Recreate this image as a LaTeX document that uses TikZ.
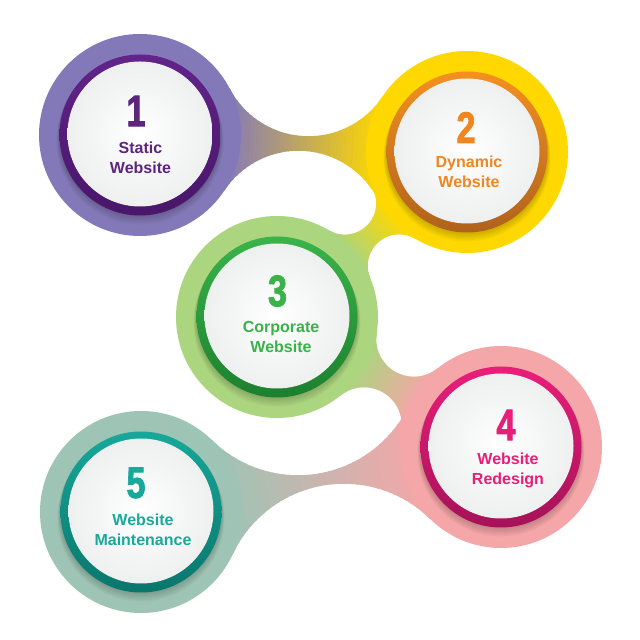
\documentclass[tikz,border=0pt]{standalone}
\usepackage{fontspec}
\setmainfont{Liberation Sans}
\newfontfamily\numfont[BoldFeatures={FakeBold=2}]{Liberation Sans}
\usepackage{graphicx}
\definecolor{pOut}{RGB}{132,121,184}
\definecolor{pRing}{RGB}{98,36,138}
\definecolor{pDark}{RGB}{72,22,105}
\definecolor{pTxt}{RGB}{92,38,124}
\definecolor{yOut}{RGB}{254,216,0}
\definecolor{yRing}{RGB}{244,144,32}
\definecolor{yDark}{RGB}{176,98,28}
\definecolor{yTxt}{RGB}{240,134,34}
\definecolor{gOut}{RGB}{171,213,126}
\definecolor{gRing}{RGB}{58,180,74}
\definecolor{gDark}{RGB}{28,128,46}
\definecolor{gTxt}{RGB}{58,178,74}
\definecolor{kOut}{RGB}{245,166,168}
\definecolor{kRing}{RGB}{234,30,122}
\definecolor{kDark}{RGB}{165,18,88}
\definecolor{kTxt}{RGB}{232,30,120}
\definecolor{tOut}{RGB}{158,196,181}
\definecolor{tRing}{RGB}{22,168,154}
\definecolor{tDark}{RGB}{10,118,108}
\definecolor{tTxt}{RGB}{26,168,154}
\definecolor{discgray}{RGB}{238,239,239}
\def\Rc{101}
% strip of the gradient between axis parameters #1 and #2
\newcommand\bstrip[3]{%
  \edef\sax{\fpeval{round(\bAx+(#1)*\bdx+125*\buy,3)}}%
  \edef\say{\fpeval{round(\bAy+(#1)*\bdy-125*\bux,3)}}%
  \edef\sbx{\fpeval{round(\bAx+(#2)*\bdx+125*\buy,3)}}%
  \edef\sby{\fpeval{round(\bAy+(#2)*\bdy-125*\bux,3)}}%
  \edef\scx{\fpeval{round(\bAx+(#2)*\bdx-125*\buy,3)}}%
  \edef\scy{\fpeval{round(\bAy+(#2)*\bdy+125*\bux,3)}}%
  \edef\sdx{\fpeval{round(\bAx+(#1)*\bdx-125*\buy,3)}}%
  \edef\sdy{\fpeval{round(\bAy+(#1)*\bdy+125*\bux,3)}}%
  \fill[#3] (\sax,\say) -- (\sbx,\sby) -- (\scx,\scy) -- (\sdx,\sdy) -- cycle;}
% bridge with concave fillets between two circles
\newcommand\drawbridge[7]{%
  \begingroup
  \edef\bAx{#1}\edef\bAy{#2}\edef\bBx{#3}\edef\bBy{#4}\edef\bR{#5}%
  \edef\bdx{\fpeval{\bBx-\bAx}}\edef\bdy{\fpeval{\bBy-\bAy}}%
  \edef\bd{\fpeval{round(sqrt(\bdx*\bdx+\bdy*\bdy),4)}}%
  \edef\bux{\fpeval{round(\bdx/\bd,6)}}\edef\buy{\fpeval{round(\bdy/\bd,6)}}%
  \edef\bh{\fpeval{\bd/2}}%
  \edef\bs{\fpeval{round(sqrt((\Rc+\bR)*(\Rc+\bR)-\bh*\bh),4)}}%
  \edef\bmx{\fpeval{(\bAx+\bBx)/2}}\edef\bmy{\fpeval{(\bAy+\bBy)/2}}%
  \edef\fPx{\fpeval{round(\bmx-\bs*\buy,4)}}\edef\fPy{\fpeval{round(\bmy+\bs*\bux,4)}}%
  \edef\fQx{\fpeval{round(\bmx+\bs*\buy,4)}}\edef\fQy{\fpeval{round(\bmy-\bs*\bux,4)}}%
  \edef\bk{\fpeval{round(\Rc/(\Rc+\bR),6)}}%
  \edef\tAPx{\fpeval{round(\bAx+\bk*(\fPx-\bAx),4)}}\edef\tAPy{\fpeval{round(\bAy+\bk*(\fPy-\bAy),4)}}%
  \edef\tBQx{\fpeval{round(\bBx+\bk*(\fQx-\bBx),4)}}\edef\tBQy{\fpeval{round(\bBy+\bk*(\fQy-\bBy),4)}}%
  \edef\aPA{\fpeval{round(atand(\bAy-\fPy,\bAx-\fPx),4)}}%
  \edef\aPB{\fpeval{round(atand(\bBy-\fPy,\bBx-\fPx),4)}}%
  \edef\aQB{\fpeval{round(atand(\bBy-\fQy,\bBx-\fQx),4)}}%
  \edef\aQA{\fpeval{round(atand(\bAy-\fQy,\bAx-\fQx),4)}}%
  \edef\dP{\fpeval{\aPB-\aPA}}\edef\dQ{\fpeval{\aQA-\aQB}}%
  \edef\ePB{\fpeval{round(\aPA+((\dP>180)?(\dP-360):((\dP<-180)?(\dP+360):(\dP))),4)}}%
  \edef\eQA{\fpeval{round(\aQB+((\dQ>180)?(\dQ-360):((\dQ<-180)?(\dQ+360):(\dQ))),4)}}%
  \edef\tz{\fpeval{round(\bk*\bh/\bd,5)}}\edef\tw{\fpeval{1-\tz}}%
  \begin{scope}
    \clip (\bAx,\bAy) -- (\tAPx,\tAPy) arc[start angle=\aPA,end angle=\ePB,radius=\bR]
      -- (\bBx,\bBy) -- (\tBQx,\tBQy) arc[start angle=\aQB,end angle=\eQA,radius=\bR] -- cycle;
    \bstrip{-0.5}{\tz+0.01}{#6}%
    \bstrip{\tw-0.01}{1.5}{#7}%
    \foreach \i in {0,...,39}{%
      \edef\ta{\fpeval{\tz+(\tw-\tz)*\i/40}}%
      \edef\tb{\fpeval{\tz+(\tw-\tz)*(\i+1.3)/40}}%
      \edef\pc{\fpeval{round(100*(\i+0.5)/40)}}%
      \bstrip{\ta}{\tb}{#7!\pc!#6}}%
  \end{scope}
  \endgroup}
\tikzset{
  lbl/.style={font=\bfseries\fontsize{16}{20}\selectfont, align=center, inner sep=0pt},
  num/.style={font=\numfont\bfseries\fontsize{44}{44}\selectfont, inner sep=0pt},
}
\newcommand\bubble[4]{% #1 coordinate, #2 outer, #3 ring, #4 ring dark
  \fill[#2] (#1) circle (101);
  \foreach \k in {1,...,6}{\fill[black,opacity=0.03] ([yshift=-\k pt]#1) circle (80.5+0.5*\k);}
  \shade[top color=#3, middle color=#3, bottom color=#4] (#1) circle (80.5);
  \shade[inner color=white, outer color=discgray] ([yshift=1pt]#1) circle (72.5);}
\begin{document}
\begin{tikzpicture}[x=1pt,y=1pt]
\useasboundingbox (0,0) rectangle (640,640);
\fill[white] (0,0) rectangle (640,640);
\coordinate (c1) at (140,505);
\coordinate (c2) at (467,488);
\coordinate (c3) at (277,323);
\coordinate (c4) at (501,193);
\coordinate (c5) at (141,128);
% bridges
\drawbridge{140}{505}{467}{488}{89}{pOut}{yOut}
\drawbridge{467}{488}{277}{323}{31.5}{yOut}{gOut}
\drawbridge{277}{323}{501}{193}{37.7}{gOut}{kOut}
\drawbridge{501}{193}{141}{128}{123}{kOut}{tOut}
% circles
\bubble{c1}{pOut}{pRing}{pDark}
\bubble{c2}{yOut}{yRing}{yDark}
\bubble{c3}{gOut}{gRing}{gDark}
\bubble{c4}{kOut}{kRing}{kDark}
\bubble{c5}{tOut}{tRing}{tDark}
% texts
\node[num, text=pTxt] (n1) at (136,529) {\scalebox{0.78}[1]{1}};
\node[lbl, text=pTxt] (t1) at (140.5,482) {Static\\Website};
\node[num, text=yTxt] (n2) at (466,512.5) {\scalebox{0.78}[1]{2}};
\node[lbl, text=yTxt] (t2) at (469,468.3) {Dynamic\\Website};
\node[num, text=gTxt] (n3) at (277.5,349) {\scalebox{0.78}[1]{3}};
\node[lbl, text=gTxt] (t3) at (281,302.8) {Corporate\\Website};
\node[num, text=kTxt] (n4) at (506,215) {\scalebox{0.78}[1]{4}};
\node[lbl, text=kTxt] (t4) at (508,169.5) {Website\\Redesign};
\node[num, text=tTxt] (n5) at (136,157) {\scalebox{0.78}[1]{5}};
\node[lbl, text=tTxt] (t5) at (143,110) {Website\\Maintenance};
\end{tikzpicture}
\end{document}
